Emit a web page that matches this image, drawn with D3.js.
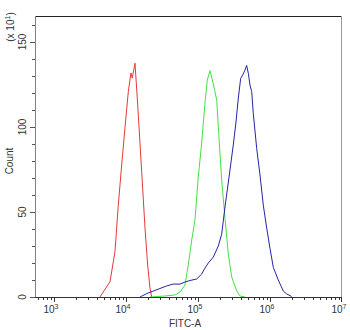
<!DOCTYPE html>
<html><head><meta charset="utf-8">
<script src="https://cdn.jsdelivr.net/npm/d3@7"></script>
<style>body{margin:0;background:#fff}svg{display:block}text{font-family:"Liberation Sans",Arial,sans-serif}</style>
</head><body><svg id="c" width="350" height="330"></svg>
<script>
// FITC-A values and counts (x10^1)
const redX   = [4355,6000,7030,7820,8710,9680,10770,11720,12220,13340,14550,16520,18370,20000,21530,22750];
const redY   = [0,9,26.6,54,77.6,99.4,120.8,131.8,128.8,137.5,113,73.7,40.6,18.8,5.3,0];
const greenX = [21530,34830,47970,56230,65920,73280,81850,90780,100900,112500,125000,134600,146900,163300,182000,197700,213300,237100,263600,293800,345100,382800,449800];
const greenY = [0,0.6,1.2,2.9,7,18.8,33.5,45.3,70.6,90.6,114,127.6,133.2,125.3,115.9,90.6,68.8,46.5,25.3,11.8,3.5,0.6,0];
const blueX  = [15630,19410,23930,29650,36730,45390,56230,65920,77450,95940,112500,125000,139000,163300,191400,213300,237100,272300,309000,337300,363100,391700,417800,449800,474200,500000,527200,557200,586100,653100,726100,807200,899500,1000000,1112000,1303000,1531000,1706000,2000000];
const blueY  = [0,2,3.5,5,6.5,7.6,7.6,8.8,9.7,10.6,13.5,17,20,23.5,30,37,53,71.8,89.4,103,117,128.6,130.6,133.5,136.2,131.6,124.7,120.8,108,87.5,71.8,54,40.6,28.6,17.4,10,3.5,1.8,0.3];
const yTicks = [0,50,100,150];
const xTickExp = [3,4,5,6,7];

const svg = d3.select("#c");
const L=35,R=342,T=16,B=297;
const x = d3.scaleLog().domain([545,1e7]).range([L,R]);
const y = d3.scaleLinear().domain([0,165.3]).range([B,T]);

const series = [[redX,redY,"#e23a3a"],[greenX,greenY,"#46e046"],[blueX,blueY,"#2424a6"]];
const line = d3.line().x(d=>x(d[0])).y(d=>y(d[1]));
series.forEach(([xs,ys,c])=>{
  svg.append("path").datum(xs.map((v,i)=>[v,ys[i]])).attr("d",line)
    .attr("fill","none").attr("stroke",c).attr("stroke-width",1);
});

// frame
svg.append("line").attr("x1",L).attr("x2",R).attr("y1",T+0.5).attr("y2",T+0.5).attr("stroke","#222");
svg.append("line").attr("x1",R-0.5).attr("x2",R-0.5).attr("y1",T).attr("y2",B).attr("stroke","#999");
svg.append("line").attr("x1",L+0.5).attr("x2",L+0.5).attr("y1",T).attr("y2",B).attr("stroke","#808080");
svg.append("line").attr("x1",L).attr("x2",R).attr("y1",B+0.5).attr("y2",B+0.5).attr("stroke","#333");

// y ticks
d3.range(0,170,10).forEach(v=>{
  const major = yTicks.includes(v);
  svg.append("line").attr("x1",L-(major?5:3)).attr("x2",L).attr("y1",Math.round(y(v))+0.5).attr("y2",Math.round(y(v))+0.5).attr("stroke","#555");
});
yTicks.forEach(v=>{
  svg.append("text").attr("transform",`translate(26,${y(v)}) rotate(-90)`).attr("text-anchor","middle")
    .attr("font-size",10).attr("fill","#333").text(v);
});
svg.append("text").attr("transform",`translate(13,${y(80)}) rotate(-90)`).attr("text-anchor","middle")
  .attr("font-size",10).attr("fill","#333").text("Count");
const ex = svg.append("text").attr("transform",`translate(14,27) rotate(-90)`).attr("text-anchor","middle")
  .attr("font-size",10).attr("fill","#333");
ex.append("tspan").text("(x 10");
ex.append("tspan").attr("font-size",7).attr("dy",-4).text("1");
ex.append("tspan").attr("dy",4).text(")");

// x ticks
for(let e=2;e<7;e++){
  for(let m=1;m<10;m++){
    const v=m*Math.pow(10,e);
    if(v<545) continue;
    const major = m===1;
    if(e===2 && major) continue;
    svg.append("line").attr("x1",Math.round(x(v))+0.5).attr("x2",Math.round(x(v))+0.5).attr("y1",B).attr("y2",B+(major?5:3)).attr("stroke","#333");
  }
}
svg.append("line").attr("x1",Math.round(x(1e7))-0.5).attr("x2",Math.round(x(1e7))-0.5).attr("y1",B).attr("y2",B+5).attr("stroke","#333");
xTickExp.forEach(e=>{
  const t = svg.append("text").attr("x",x(Math.pow(10,e))-3).attr("y",313).attr("text-anchor","middle")
    .attr("font-size",10).attr("fill","#333");
  t.append("tspan").text("10");
  t.append("tspan").attr("font-size",7).attr("dy",-4).text(e);
});
svg.append("text").attr("x",185).attr("y",327).attr("text-anchor","middle").attr("font-size",10).attr("fill","#333").text("FITC-A");
</script></body></html>
